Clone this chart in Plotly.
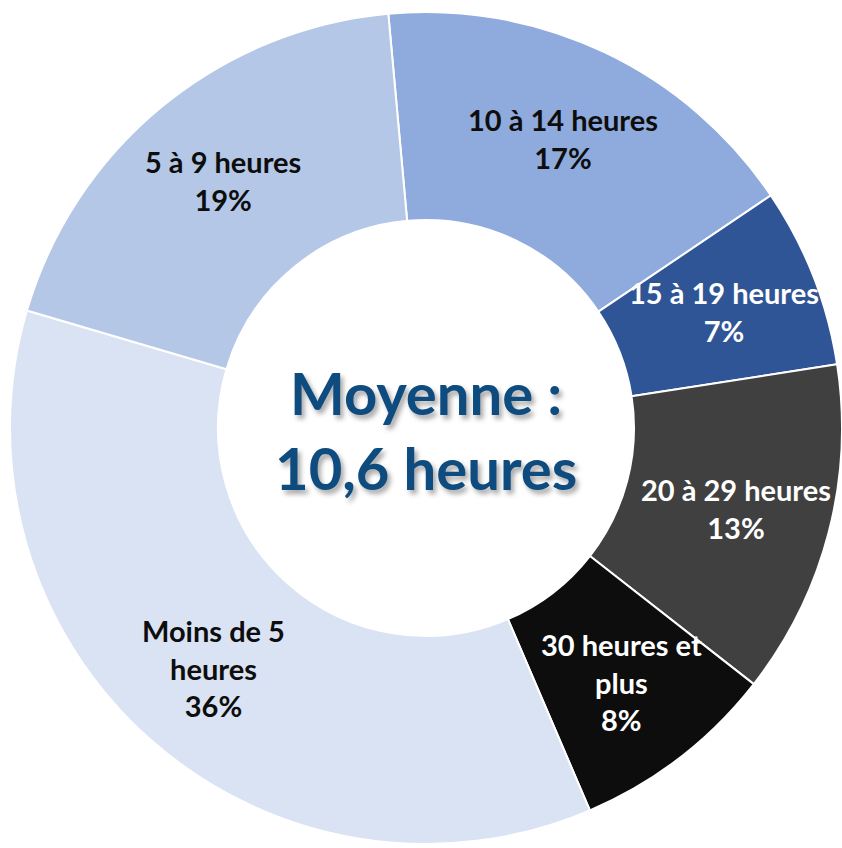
import math
import plotly.graph_objects as go

labels = ["10 à 14 heures", "15 à 19 heures", "20 à 29 heures",
          "30 heures et plus", "Moins de 5 heures", "5 à 9 heures"]
display_labels = ["10 à 14 heures", "15 à 19 heures", "20 à 29 heures",
                  "30 heures et<br>plus", "Moins de 5<br>heures", "5 à 9 heures"]
values = [17, 7, 13, 8, 36, 19]
colors = ["#8FAADC", "#2F5597", "#404040", "#0D0D0D", "#DAE3F3", "#B4C7E7"]
text_colors = ["#0D0D0D", "#FFFFFF", "#FFFFFF", "#FFFFFF", "#0D0D0D", "#0D0D0D"]
center_text = "Moyenne :<br>10,6 heures"

W, H = 842, 848
dom_x = [10 / W, 1]
dom_y = [1 - 846 / H, 1 - 10 / H]
rotation = -5.2
label_radius_frac = 0.77

fig = go.Figure(go.Pie(
    labels=labels,
    values=values,
    textinfo="none",
    hole=0.5,
    sort=False,
    direction="clockwise",
    rotation=rotation,
    marker=dict(colors=colors, line=dict(color="#FFFFFF", width=2)),
    domain=dict(x=dom_x, y=dom_y),
    showlegend=False,
    hoverinfo="label+percent",
))

# Slice labels placed at the mid-angle of each slice (derived from the data)
cx_px = (dom_x[0] + dom_x[1]) / 2 * W
cy_px = (1 - (dom_y[0] + dom_y[1]) / 2) * H
R = min((dom_x[1] - dom_x[0]) * W, (dom_y[1] - dom_y[0]) * H) / 2
total = sum(values)
cum = 0
for lab, v, tc in zip(display_labels, values, text_colors):
    mid = math.radians(rotation + 360 * (cum + v / 2) / total)
    cum += v
    px = cx_px + label_radius_frac * R * math.sin(mid)
    py = cy_px - label_radius_frac * R * math.cos(mid)
    fig.add_annotation(
        text=f"{lab}<br>{v}%", x=px / W, y=1 - py / H,
        xref="paper", yref="paper", showarrow=False,
        xanchor="center", yanchor="middle", align="center",
        font=dict(family="Lato", size=29, color=tc, weight="bold"),
    )

fig.add_annotation(
    text=center_text, x=cx_px / W, y=1 - (cy_px + 2) / H, xref="paper", yref="paper",
    showarrow=False,
    font=dict(family="Lato", size=58, color="#0E4B7E", weight="bold",
              shadow="3px 4px 5px rgba(0,0,0,0.35)"),
    align="center",
)

fig.update_layout(
    width=W, height=H,
    margin=dict(l=0, r=0, t=0, b=0),
    paper_bgcolor="white",
)

fig.write_html(
    "out.html",
    config={"displayModeBar": False},
    post_script="document.body.style.margin='0';document.body.style.overflow='hidden';",
)
